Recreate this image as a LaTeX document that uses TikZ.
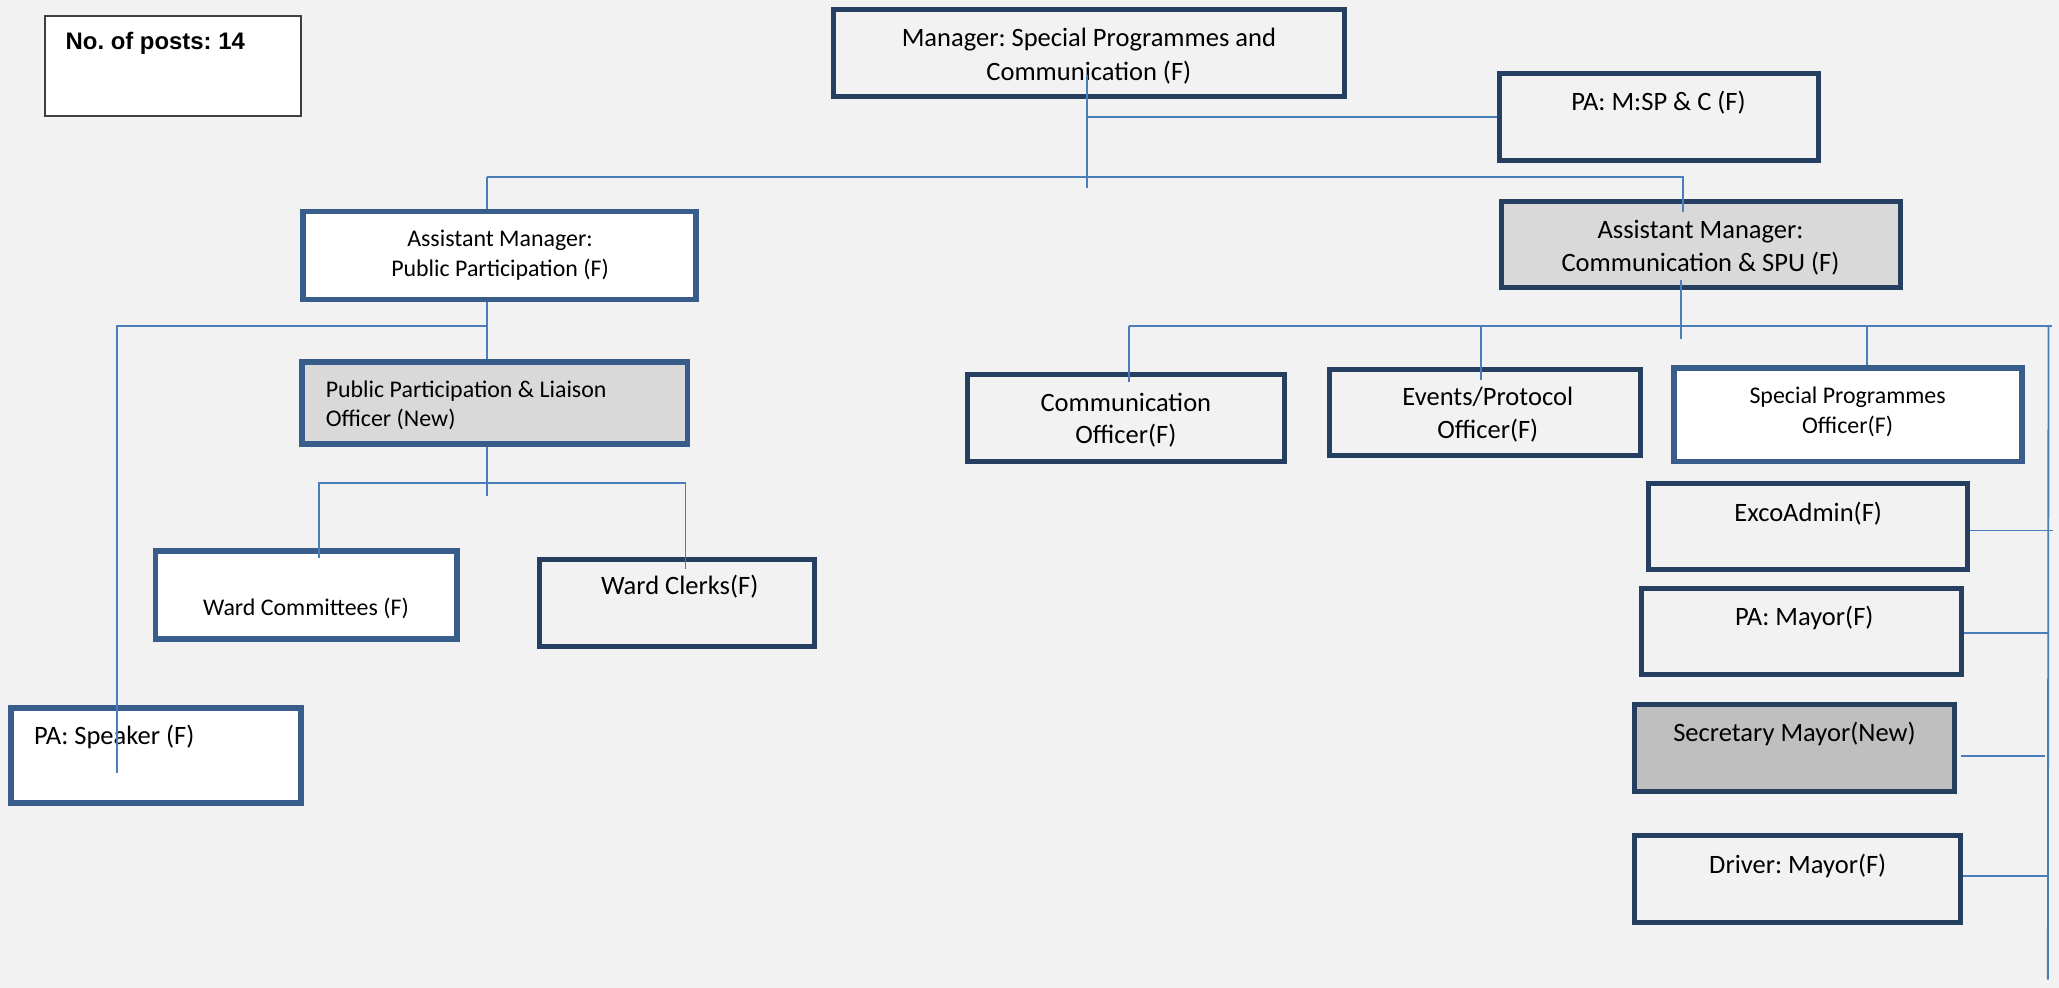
\documentclass[tikz,border=0pt]{standalone}
\usepackage{fontspec}
\setmainfont{Carlito}
\newfontfamily\arialfont{Liberation Sans}
\usetikzlibrary{fit}
\definecolor{bgc}{HTML}{F2F2F2}
\definecolor{navy}{HTML}{243F60}
\definecolor{bluebd}{HTML}{385D8A}
\definecolor{conncol}{HTML}{4A7EBB}
\definecolor{lgray}{HTML}{D9D9D9}
\definecolor{mgray}{HTML}{BFBFBF}
\definecolor{postbd}{HTML}{404040}
\frenchspacing
\begin{document}
\begin{tikzpicture}[x=0.5pt,y=-0.5pt,
  nbox/.style={draw=navy,line width=1.9pt,inner sep=0pt},
  bbox/.style={draw=bluebd,line width=2.2pt,inner sep=0pt},
  link/.style={draw=conncol,line width=0.7pt},
  tc/.style={inner sep=0pt,anchor=base,font=\fontsize{10.1}{12}\selectfont},
  ts/.style={inner sep=0pt,anchor=base,font=\fontsize{9.1}{11}\selectfont},
  tw/.style={inner sep=0pt,anchor=base west,font=\fontsize{10.1}{12}\selectfont},
  tsw/.style={inner sep=0pt,anchor=base west,font=\fontsize{9.1}{11}\selectfont}]
\fill[bgc] (0,0) rectangle (1568,752);
\useasboundingbox (0,0) rectangle (1568,752);

% boxes
\node[draw=postbd,line width=0.8pt,fill=white,inner sep=0pt,fit={(34.5,12.5)(229,88)}] (posts) {};
\node[nbox,fit={(634.5,7.5)(1024,73.5)}] (mgr) {};
\node[nbox,fit={(1142,56)(1384.5,122)}] (pa) {};
\node[bbox,fill=white,fit={(230.5,161)(530,228)}] (ampp) {};
\node[nbox,fill=lgray,fit={(1143.7,153.6)(1447,219)}] (amc) {};
\node[bbox,fill=lgray,fit={(230,275.7)(523.5,338.2)}] (ppl) {};
\node[bbox,fill=white,fit={(118.4,419.6)(348,486.7)}] (wcom) {};
\node[nbox,fit={(410.7,426)(620.5,492)}] (wclk) {};
\node[bbox,fill=white,fit={(8.2,539)(229,611.5)}] (pasp) {};
\node[nbox,fit={(736.8,285)(978,351.4)}] (co) {};
\node[nbox,fit={(1012.7,281)(1249,347)}] (ev) {};
\node[bbox,fill=white,fit={(1274.7,280.5)(1540,351.4)}] (spo) {};
\node[nbox,fit={(1255.6,368)(1498.4,434)}] (exco) {};
\node[nbox,fit={(1250,448)(1494,514)}] (pam) {};
\node[nbox,fill=mgray,fit={(1245,536.5)(1488.5,602.7)}] (sec) {};
\node[nbox,fit={(1245,636)(1493,702.5)}] (drv) {};

% texts
\node[inner sep=0pt,anchor=base west,font=\arialfont\bfseries\fontsize{9.1}{11}\selectfont] (postsT) at (49.6,37.6) {No. of posts: 14};
\node[tc] (mgrT1) at (829.2,35.5) {Manager: Special Programmes and};
\node[tc] (mgrT2) at (829.2,61) {Communication (F)};
\node[tc] (paT) at (1263,83.8) {PA: M:SP \& C (F)};
\node[ts] (amppT1) at (380.8,187.9) {Assistant Manager:};
\node[ts] (amppT2) at (380.8,210.2) {Public Participation (F)};
\node[tc] (amcT1) at (1295,181.4) {Assistant Manager:};
\node[tc] (amcT2) at (1295,207) {Communication \& SPU (F)};
\node[tsw] (pplT1) at (247.7,303) {Public Participation \& Liaison};
\node[tsw] (pplT2) at (247.7,325) {Officer (New)};
\node[inner sep=0pt,anchor=base,font=\fontsize{9.1}{11}\selectfont] (wcomT) at (233,469) {Ward Committees (F)};
\node[tc] (wclkT) at (517.6,453) {Ward Clerks(F)};
\node[tw] (paspT) at (25.6,567) {PA: Speaker (F)};
\node[tc] (coT1) at (857.4,313.5) {Communication};
\node[tc] (coT2) at (857.4,337.6) {Officer(F)};
\node[tc] (evT1) at (1133,309) {Events/Protocol};
\node[tc] (evT2) at (1133,333.8) {Officer(F)};
\node[ts] (spoT1) at (1407,307.2) {Special Programmes};
\node[ts] (spoT2) at (1407,330) {Officer(F)};
\node[tc] (excoT) at (1377,397) {ExcoAdmin(F)};
\node[tc] (pamT) at (1374,476) {PA: Mayor(F)};
\node[tc] (secT) at (1366.5,564.9) {Secretary Mayor(New)};
\node[tc] (drvT) at (1369,665) {Driver: Mayor(F)};

% junction coordinates
\coordinate (m0) at (827.6,57);
\coordinate (m1) at (827.6,143);
\coordinate (mpa) at (827.6,89);
\coordinate (jl) at (370.6,134.5);
\coordinate (jr) at (1281.6,134.5);
\coordinate (jrb) at (1281.6,161.7);
\coordinate (a0) at (370.6,248);
\coordinate (s0) at (88.8,248);
\coordinate (s1) at (88.8,589);
\coordinate (p0) at (370.7,367.6);
\coordinate (p1) at (370.7,377.8);
\coordinate (pl) at (242.7,367.6);
\coordinate (pl1) at (242.7,425);
\coordinate (pr) at (522,367.6);
\coordinate (pr1) at (522,433.6);
\coordinate (c0) at (1280,213);
\coordinate (c1) at (1280,258);
\coordinate (hL) at (860,248);
\coordinate (hR) at (1563,248);
\coordinate (hco) at (860,290.7);
\coordinate (hev0) at (1128,248);
\coordinate (hev) at (1128,289.5);
\coordinate (hsp0) at (1421.8,248);
\coordinate (vr0) at (1560,248);
\coordinate (vr1) at (1559.5,746);
\coordinate (e1) at (1563.6,404);
\coordinate (pm1) at (1560,482);
\coordinate (sc0) at (1493.6,576);
\coordinate (sc1) at (1557.5,576);
\coordinate (dv1) at (1559,667);

% connectors
\draw[link] (m0) -- (m1);
\draw[link] (mpa) -- (pa.west |- mpa);
\draw[link] (jl) -- (jr) -- (jrb);
\draw[link] (jl) -- (ampp.north -| jl);
\draw[link] (ampp.south -| a0) -- (ppl.north -| a0);
\draw[link] (a0) -- (s0) -- (s1);
\draw[link] (ppl.south -| p0) -- (p1);
\draw[link] (pl1) -- (pl) -- (pr) -- (pr1);
\draw[link] (c0) -- (c1);
\draw[link] (hL) -- (hR);
\draw[link] (hL) -- (hco);
\draw[link] (hev0) -- (hev);
\draw[link] (hsp0) -- (spo.north -| hsp0);
\draw[link] (vr0) -- (vr1);
\draw[link] (exco.east |- e1) -- (e1);
\draw[link] (pam.east |- pm1) -- (pm1);
\draw[link] (sc0) -- (sc1);
\draw[link] (drv.east |- dv1) -- (dv1);
\end{tikzpicture}
\end{document}
